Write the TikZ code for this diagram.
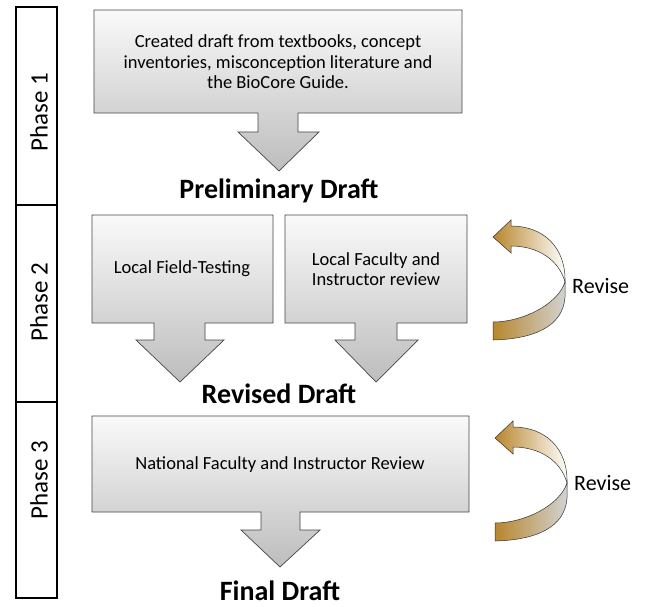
\documentclass[tikz,border=0pt]{standalone}
\usepackage{fontspec}
\setmainfont{Carlito}
\definecolor{gold}{RGB}{184,134,44}
\begin{document}
\begin{tikzpicture}[x=1pt,y=-1pt,
  callout/.style={draw=gray!55!black, line width=0.7pt, top color=gray!4, bottom color=gray!52, line join=miter},
  phasebar/.style={draw=black, line width=1.2pt, fill=white},
  body/.style={font=\fontsize{18.5}{20.5}\selectfont, align=center, inner sep=0pt},
  headtxt/.style={font=\fontsize{28}{32}\selectfont\bfseries, inner sep=0pt, anchor=base},
  phaselabel/.style={font=\fontsize{25}{28}\selectfont, rotate=90, inner sep=0pt},
  revlabel/.style={font=\fontsize{22}{26}\selectfont, anchor=base west, inner sep=0pt},
  band/.style={draw=gray!40!black, line width=0.5pt},
  revarrow/.pic={
    \path[band, left color=gold, right color=gray!35]
      (0,40) .. controls (30,40) and (65,22) .. (72,0) -- (72,15)
      .. controls (70,45) and (40,57) .. (0,58) -- cycle;
    \path[band, left color=gold, right color=white]
      (72,0) .. controls (66,-22) and (45,-36) .. (18,-36) -- (18,-29) -- (0,-45)
      -- (18,-62) -- (18,-56) .. controls (50,-56) and (73,-35) .. (72,0) -- cycle;
  }
]
\useasboundingbox (0,0) rectangle (651,607);
\fill[white] (0,0) rectangle (651,607);

% phase bars
\draw[phasebar] (16,7) rectangle (57,205);
\draw[phasebar] (16,205) rectangle (57,402);
\draw[phasebar] (16,402) rectangle (57,598);
\node[phaselabel] (p1) at (39,112) {Phase 1};
\node[phaselabel] (p2) at (39,302) {Phase 2};
\node[phaselabel] (p3) at (39,480) {Phase 3};

% phase 1 callout
\path[callout] (94,10) -- (462,10) -- (462,113) -- (298,113) -- (298,132) -- (319,132)
  -- (279,171) -- (238,132) -- (258,132) -- (258,113) -- (94,113) -- cycle;
\node[body] (t1) at (278,62) {Created draft from textbooks, concept\\inventories, misconception literature and\\the BioCore Guide.};
\node[headtxt] (prelim) at (279,199) {Preliminary Draft};

% phase 2 callouts
\path[callout] (92,215) -- (273,215) -- (273,323) -- (205,323) -- (205,340) -- (224,340)
  -- (180,382) -- (136,340) -- (154,340) -- (154,323) -- (92,323) -- cycle;
\node[body] (t2a) at (182,269) {Local Field-Testing};
\path[callout] (285,215) -- (467,215) -- (467,323) -- (397,323) -- (397,340) -- (418,340)
  -- (376,382) -- (335,340) -- (355,340) -- (355,323) -- (285,323) -- cycle;
\node[body] (t2b) at (376,269) {Local Faculty and\\Instructor review};
\node[headtxt] (revised) at (279,403) {Revised Draft};

% phase 3 callout
\path[callout] (92,416) -- (469,416) -- (469,512) -- (300,512) -- (300,530) -- (320,530)
  -- (280,567) -- (241,530) -- (261,530) -- (261,512) -- (92,512) -- cycle;
\node[body] (t3) at (280,465) {National Faculty and Instructor Review};
\node[headtxt] (final) at (280,600) {Final Draft};

% revise arrows
\pic (ra1) at (493,282) {revarrow};
\pic (ra2) at (495,483) {revarrow};
\node[revlabel] (rv1) at (572,293) {Revise};
\node[revlabel] (rv2) at (574,490) {Revise};
\end{tikzpicture}
\end{document}
